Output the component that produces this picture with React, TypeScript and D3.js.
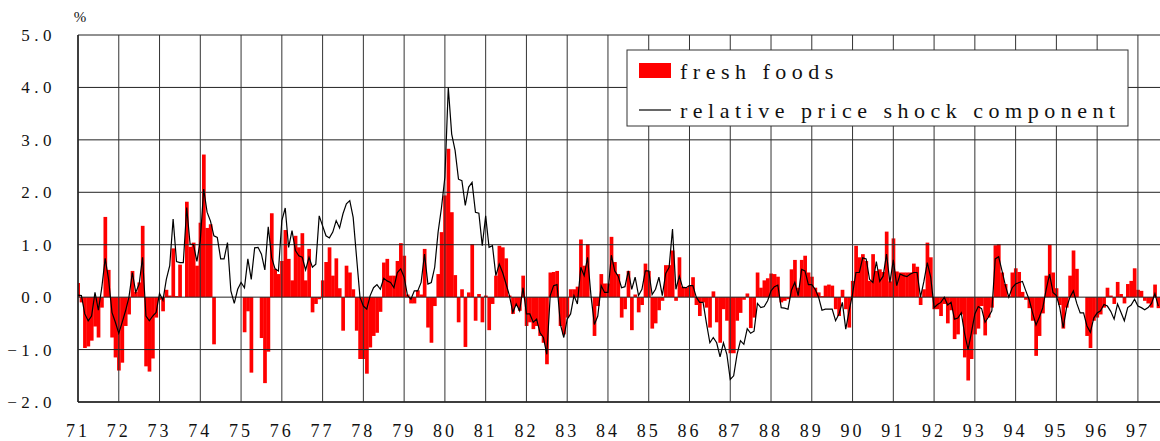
import React from "react";
import * as d3 from "d3";

// x tick labels (year starts, Jan 1971 .. 1997)
const yearLabels = ["71","72","73","74","75","76","77","78","79","80","81","82","83","84","85","86","87","88","89","90","91","92","93","94","95","96","97"];
const yTicks = [5, 4, 3, 2, 1, 0, -1, -2];

// monthly, Jan 1971 .. Jul 1997 (%)
const freshFoods = [
  0.27, -0.1, -0.97, -0.94, -0.83, -0.56, -0.77, -0.2, 1.53, 0.52, -0.77, -1.15, // 71
  -1.4, -1.25, -0.55, -0.33, 0.5, 0.1, 0.28, 1.36, -1.32, -1.42, -1.17, -0.39, // 72
  -0.05, -0.27, 0.14, 0.03, 0.93, 0.02, 0.62, 0.0, 1.82, 0.96, 1.04, 0.6, // 73
  1.42, 2.72, 1.32, 1.39, -0.9, 0.0, 0.0, 0.0, 0.0, 0.0, 0.0, 0.0, // 74
  0.0, -0.67, -0.27, -1.44, 0.0, 0.0, -0.78, -1.64, -1.04, 1.6, 0.54, 0.44, // 75
  0.69, 1.28, 0.73, 0.32, 1.17, 0.95, 1.22, 0.32, 0.92, -0.29, -0.13, -0.04, // 76
  0.32, 0.67, 0.95, 0.41, 0.74, 0.17, -0.64, 0.6, 0.47, 0.15, -0.64, -1.18, // 77
  -1.18, -1.46, -0.96, -0.74, -0.68, -0.28, 0.66, 0.73, 0.41, 0.41, 0.69, 1.03, // 78
  0.79, 0.05, -0.12, -0.12, 0.13, 0.05, 0.92, -0.58, -0.87, -0.17, 0.44, 1.24, // 79
  1.94, 2.83, 1.62, 0.42, -0.48, 0.15, -0.95, 0.09, 1.01, -0.45, 0.06, -0.48, // 80
  0.03, -0.63, -0.13, 0.41, 0.98, 0.95, 0.74, 0.03, -0.32, -0.17, -0.26, 0.41, // 81
  -0.55, -0.48, -0.61, -0.55, -0.74, -0.87, -1.28, 0.47, 0.48, 0.5, -0.55, -0.71, // 82
  -0.39, 0.15, 0.15, 0.2, 1.1, 0.6, 1.01, 0.0, -0.74, -0.17, 0.44, 0.26, // 83
  0.26, 1.15, 0.67, 0.44, -0.39, -0.23, 0.5, -0.63, 0.05, -0.29, -0.15, 0.64, // 84
  0.5, -0.6, -0.5, -0.25, -0.07, 0.61, 0.61, 0.89, -0.07, 0.76, 0.2, 0.18, // 85
  0.22, 0.38, -0.15, -0.36, -0.1, -0.2, -0.58, 0.11, -0.48, -0.87, -0.23, -0.45, // 86
  -1.07, -1.07, -0.45, -0.3, -0.05, 0.07, -0.59, -0.39, 0.47, 0.18, 0.32, 0.36, // 87
  0.45, 0.44, 0.39, -0.1, -0.07, -0.04, 0.53, 0.71, 0.18, 0.71, 0.79, 0.47, // 88
  0.39, 0.18, 0.09, 0.02, 0.22, 0.24, 0.22, -0.23, -0.36, 0.14, -0.23, -0.58, // 89
  0.31, 0.98, 0.76, 0.82, 0.69, 0.31, 0.82, 0.5, 0.53, 0.48, 1.25, 0.3, // 90
  1.12, 0.49, 0.47, 0.47, 0.47, 0.47, 0.64, 0.58, -0.15, 0.15, 1.04, 0.76, // 91
  -0.23, -0.23, -0.36, -0.13, -0.5, -0.25, -0.8, -0.71, -0.33, -1.15, -1.59, -1.18, // 92
  -0.71, -0.6, -0.17, -0.73, -0.39, -0.2, 0.99, 1.01, 0.47, 0.25, 0.02, 0.47, // 93
  0.55, 0.48, 0.1, -0.05, -0.21, -0.45, -1.12, -0.74, -0.31, 0.41, 1.0, 0.47, // 94
  0.17, -0.15, -0.6, -0.2, 0.41, 0.89, 0.54, 0.0, 0.0, -0.74, -0.97, -0.45, // 95
  -0.39, -0.33, -0.2, 0.18, 0.03, -0.13, 0.29, 0.06, -0.12, 0.25, 0.31, 0.55, // 96
  0.14, 0.12, -0.07, -0.12, -0.2, 0.24, -0.21, // 97
];

const priceShock = [
  0.04, 0.03, -0.32, -0.45, -0.36, 0.09, -0.25, 0.18, 0.74, 0.34, -0.29, -0.48, // 71
  -0.69, -0.48, -0.26, 0.0, 0.47, 0.09, 0.25, 0.76, -0.36, -0.45, -0.36, -0.29, // 72
  0.07, -0.06, 0.34, 0.6, 1.49, 0.68, 0.66, 0.66, 1.71, 1.01, 1.0, 0.68, // 73
  1.08, 2.06, 1.62, 1.45, 1.17, 1.14, 0.73, 0.73, 1.04, 0.12, -0.12, 0.15, // 74
  0.28, 0.18, 0.73, 0.34, 0.94, 0.95, 0.82, 0.52, 1.34, 0.76, 0.54, 0.5, // 75
  1.46, 1.7, 0.95, 1.27, 0.89, 0.79, 0.76, 0.52, 0.76, 0.57, 0.63, 1.55, // 76
  1.36, 1.17, 1.13, 1.24, 1.46, 1.32, 1.59, 1.78, 1.84, 1.52, 0.76, 0.0, // 77
  -0.17, -0.23, 0.03, 0.18, 0.24, 0.15, 0.36, 0.31, 0.28, 0.18, 0.47, 0.54, // 78
  0.38, 0.03, -0.04, 0.12, 0.12, 0.28, 0.82, 0.25, 0.28, 0.57, 1.24, 1.71, // 79
  2.29, 4.0, 3.11, 2.8, 2.25, 2.22, 1.75, 2.1, 2.19, 1.62, 1.6, 0.98, // 80
  1.55, 0.95, 0.98, 0.41, 0.63, 0.47, 0.25, 0.03, -0.29, -0.13, -0.26, 0.18, // 81
  -0.32, -0.32, -0.48, -0.42, -0.68, -0.77, -1.09, 0.03, 0.22, 0.24, -0.52, -0.77, // 82
  -0.42, -0.32, 0.03, -0.13, 0.57, 0.41, 0.76, 0.03, -0.52, -0.36, 0.22, 0.09, // 83
  0.09, 0.8, 0.5, 0.4, 0.18, 0.2, 0.5, 0.15, 0.38, 0.03, 0.15, 0.5, // 84
  0.5, 0.05, 0.15, 0.38, 0.03, 0.45, 0.57, 1.3, 0.15, 0.4, 0.18, 0.18, // 85
  0.22, 0.22, 0.0, -0.1, -0.1, -0.5, -0.87, -0.77, -0.87, -1.14, -0.87, -1.09, // 86
  -1.57, -1.5, -1.09, -0.83, -0.9, -0.6, -0.69, -0.65, -0.12, -0.2, -0.18, -0.07, // 87
  0.12, 0.2, 0.23, -0.2, -0.21, -0.23, 0.13, 0.28, 0.03, 0.53, 0.5, 0.24, // 88
  0.24, 0.15, 0.0, -0.25, -0.23, -0.23, -0.23, -0.45, -0.32, -0.1, -0.61, -0.26, // 89
  0.06, 0.47, 0.47, 0.75, 0.73, 0.34, 0.28, 0.68, 0.3, 0.4, 0.82, 0.28, // 90
  0.71, 0.22, 0.44, 0.41, 0.39, 0.44, 0.47, 0.47, 0.0, 0.3, 0.66, 0.38, // 91
  -0.2, -0.14, -0.1, 0.0, -0.15, -0.1, -0.42, -0.4, -0.3, -0.7, -1.0, -0.67, // 92
  -0.32, -0.18, -0.22, -0.48, -0.38, -0.26, 0.73, 0.77, 0.5, 0.22, 0.0, 0.18, // 93
  0.25, 0.28, 0.3, 0.12, -0.05, -0.3, -0.53, -0.38, -0.2, 0.15, 0.44, 0.09, // 94
  0.03, -0.2, -0.58, -0.2, 0.0, 0.12, -0.12, -0.3, -0.3, -0.55, -0.67, -0.4, // 95
  -0.3, -0.26, -0.14, -0.17, -0.27, -0.42, -0.13, -0.29, -0.45, -0.2, -0.15, -0.04, // 96
  -0.17, -0.2, -0.24, -0.2, -0.12, 0.07, -0.17, // 97
];

const FONT = "Liberation Serif, Times New Roman, serif";

export default function App() {
  const W = 1160, H = 441;
  const left = 78, right = 1160, top = 35, bottom = 402;
  const x = d3.scaleLinear().domain([0, 318.5]).range([left, right]);
  const y = d3.scaleLinear().domain([-2, 5]).range([bottom, top]);
  const bw = x(1) - x(0);
  const line = d3
    .line<number>()
    .x((_, i) => x(i))
    .y((d) => y(d));

  return (
    <svg width={W} height={H} style={{ position: "absolute", left: 0, top: 0, background: "#fff" }}>
      <defs>
        <clipPath id="plot">
          <rect x={left} y={top - 1} width={right - left} height={bottom - top + 2} />
        </clipPath>
      </defs>
      <rect x={0} y={0} width={W} height={H} fill="#fff" />

      <g clipPath="url(#plot)">
        {freshFoods.map((v, i) => (
          <rect
            key={i}
            x={x(i) - bw / 2}
            y={Math.min(y(v), y(0))}
            width={bw + 0.3}
            height={Math.abs(y(v) - y(0))}
            fill="#ff0000"
          />
        ))}
      </g>

      {yTicks.map((t) => (
        <line key={"h" + t} x1={left} x2={right} y1={y(t)} y2={y(t)} stroke="#222" strokeWidth={1} />
      ))}
      {yearLabels.map((lab, k) => (
        <line key={"v" + lab} x1={x(12 * k)} x2={x(12 * k)} y1={top} y2={bottom} stroke="#333" strokeWidth={1} />
      ))}
      <line x1={left} x2={left} y1={top} y2={bottom} stroke="#222" strokeWidth={1.5} />
      <line x1={left} x2={right} y1={bottom} y2={bottom} stroke="#222" strokeWidth={1.3} />

      <path d={line(priceShock) || ""} fill="none" stroke="#000" strokeWidth={1.2} clipPath="url(#plot)" />

      {yTicks.map((t) => (
        <text key={"yl" + t} x={56} y={y(t) + 6} textAnchor="end" fontFamily={FONT} fontSize={17} letterSpacing={4.5} fill="#111">
          {d3.format(".1f")(t)}
        </text>
      ))}
      <text x={80} y={22} textAnchor="middle" fontFamily={FONT} fontSize={15} fill="#111">%</text>

      {yearLabels.map((lab, k) => (
        <text key={"xl" + lab} x={x(12 * k)} y={437} textAnchor="middle" fontFamily={FONT} fontSize={18} letterSpacing={3} fill="#111">
          {lab}
        </text>
      ))}

      <rect x={627} y={50} width={501} height={76} fill="#fff" stroke="#333" strokeWidth={1} />
      <rect x={639} y={63} width={32} height={15} fill="#ff0000" />
      <text x={680} y={79} fontFamily={FONT} fontSize={22} letterSpacing={5.5} fill="#111">fresh foods</text>
      <line x1={639} x2={671} y1={110} y2={110} stroke="#000" strokeWidth={1.2} />
      <text x={680} y={118} fontFamily={FONT} fontSize={22} letterSpacing={5.5} fill="#111">relative price shock component</text>
    </svg>
  );
}
